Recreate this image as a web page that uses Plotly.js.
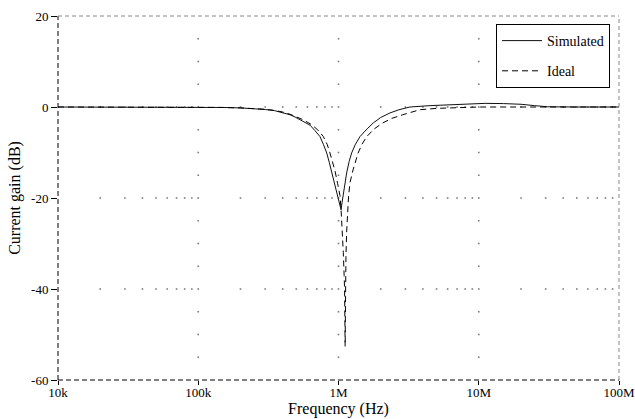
<!DOCTYPE html>
<html>
<head>
<meta charset="utf-8">
<script src="https://cdn.plot.ly/plotly-3.0.1.min.js"></script>
<style>html,body{margin:0;padding:0;background:#fff}#chart{width:635px;height:419px}</style>
</head>
<body>
<div id="chart"></div>
<script>
// Frequency (Hz) and gain (dB)
const simFreq = [1e4, 3e4, 1e5, 1.5e5, 2e5, 2.5e5, 3e5, 3.5e5, 3.83e5, 4.2e5, 4.51e5, 4.9e5, 5.31e5, 5.8e5, 6.27e5, 6.8e5, 7.38e5, 7.8e5, 8.24e5, 8.6e5, 8.95e5, 9.35e5, 9.71e5, 1.0e6, 1.02e6, 1.043e6, 1.06e6, 1.082e6, 1.11e6, 1.143e6, 1.19e6, 1.241e6, 1.32e6, 1.423e6, 1.6e6, 1.77e6, 2.0e6, 2.33e6, 2.7e6, 3.23e6, 4.5e6, 6.04e6, 8.0e6, 1.11e7, 1.5e7, 2.0e7, 2.5e7, 3.1e7, 5.0e7, 1e8];
const simGain = [0, 0, -0.05, -0.1, -0.2, -0.35, -0.55, -0.8, -1.1, -1.4, -1.7, -2.2, -2.8, -3.4, -4.0, -5.2, -6.5, -8.2, -10.1, -12.2, -14.5, -16.8, -18.9, -20.8, -22.0, -22.6, -21.0, -18.9, -16.5, -14.5, -12.0, -10.1, -8.2, -6.5, -4.8, -3.5, -2.3, -1.3, -0.6, 0, 0.3, 0.5, 0.7, 0.8, 0.75, 0.6, 0.3, 0.05, 0, 0];

const idealFreq = [1e4, 3e4, 1e5, 1.5e5, 2e5, 2.5e5, 3e5, 3.5e5, 4e5, 4.51e5, 5e5, 5.6e5, 6.44e5, 7.1e5, 7.8e5, 8.3e5, 8.69e5, 9.1e5, 9.44e5, 9.85e5, 1.025e6, 1.043e6, 1.065e6, 1.082e6, 1.097e6, 1.105e6, 1.115e6, 1.12e6, 1.13e6, 1.143e6, 1.16e6, 1.18e6, 1.21e6, 1.27e6, 1.38e6, 1.47e6, 1.59e6, 1.8e6, 2.07e6, 2.4e6, 2.87e6, 3.3e6, 3.8e6, 5e6, 7e6, 1e7, 3e7, 1e8];
const idealGain = [0, 0, -0.05, -0.1, -0.2, -0.35, -0.5, -0.75, -1.1, -1.6, -2.1, -2.8, -3.9, -5.0, -6.5, -8.2, -10.1, -12.2, -14.0, -16.8, -19.5, -22.5, -27.0, -32.0, -37.0, -40.0, -52.6, -40.0, -33.0, -27.5, -22.5, -19.5, -16.5, -13.8, -10.1, -8.2, -6.5, -4.8, -3.5, -2.5, -1.7, -1.1, -0.6, -0.3, -0.1, 0, 0, 0];

const xTickVals = [1e4, 1e5, 1e6, 1e7, 1e8];
const xTickText = ['10k', '100k', '1M', '10M', '100M'];
const yTickVals = [-60, -40, -20, 0, 20];
const yTickText = ['-60', '-40', '-20', '0', '20'];
const gridRows = [0, -20, -40];
const gridCols = [1e5, 1e6, 1e7];

// dotted grid: dots at minor x positions along major rows, minor y along major columns
const gx = [], gy = [];
gridRows.forEach(function (yv) {
  for (let d = 4; d < 8; d++) {
    for (let m = 1; m <= 9; m++) {
      const xv = m * Math.pow(10, d);
      if (xv <= 1e4) continue;
      gx.push(xv); gy.push(yv);
    }
  }
});
gridCols.forEach(function (xv) {
  for (let yv = -55; yv <= 15; yv += 5) {
    if (gridRows.indexOf(yv) >= 0) continue;
    gx.push(xv); gy.push(yv);
  }
});

const font = '"Liberation Serif", "Times New Roman", serif';

const traces = [
  {x: gx, y: gy, type: 'scatter', mode: 'markers', showlegend: false, hoverinfo: 'skip',
   marker: {symbol: 'square', size: 1.6, color: '#7a7a7a', line: {width: 0}}},
  {x: simFreq, y: simGain, type: 'scatter', mode: 'lines', name: 'Simulated', legendgroup: 'a',
   line: {color: '#111', width: 1}},
  {x: idealFreq, y: idealGain, type: 'scatter', mode: 'lines', name: 'Ideal', legendgroup: 'b',
   line: {color: '#000', width: 1, dash: '6px,4px'}}
];

const layout = {
  width: 635, height: 419,
  margin: {l: 58, r: 16, t: 16, b: 39},
  paper_bgcolor: '#fff', plot_bgcolor: '#fff',
  font: {family: font, size: 13, color: '#000'},
  showlegend: true,
  legend: {x: 0.984, xanchor: 'right', y: 0.978, yanchor: 'top',
    bgcolor: '#fff', bordercolor: '#000', borderwidth: 1,
    font: {family: font, size: 14, color: '#000'},
    tracegroupgap: 9, itemwidth: 40, traceorder: 'grouped'},
  xaxis: {type: 'log', range: [4, 8], tickvals: xTickVals, ticktext: xTickText,
    showgrid: false, zeroline: false, showline: false,
    ticks: 'outside', ticklen: 4, tickcolor: '#000', tickwidth: 1,
    ticklabelstandoff: -4,
    tickfont: {family: font, size: 13, color: '#000'},
    title: {text: 'Frequency (Hz)', font: {family: font, size: 16, color: '#000'}, standoff: 1}},
  yaxis: {range: [-60, 20], tickvals: yTickVals, ticktext: yTickText,
    showgrid: false, zeroline: false, showline: false,
    ticks: 'outside', ticklen: 6, tickcolor: '#000', tickwidth: 1,
    tickfont: {family: font, size: 13, color: '#000'},
    title: {text: 'Current gain (dB)', font: {family: font, size: 16, color: '#000'}, standoff: 6}},
  shapes: [
    {type: 'line', xref: 'paper', yref: 'paper', x0: 0, x1: 0, y0: 0, y1: 1, layer: 'above',
     line: {color: '#000', width: 1, dash: '5px,3px'}},
    {type: 'line', xref: 'paper', yref: 'paper', x0: 0, x1: 1, y0: 0, y1: 0, layer: 'above',
     line: {color: '#000', width: 1, dash: '5px,3px'}},
    {type: 'line', xref: 'paper', yref: 'paper', x0: 0, x1: 1, y0: 1, y1: 1, layer: 'above',
     line: {color: '#888', width: 1, dash: '4px,3px'}},
    {type: 'line', xref: 'paper', yref: 'paper', x0: 1, x1: 1, y0: 0, y1: 1, layer: 'above',
     line: {color: '#888', width: 1, dash: '4px,3px'}}
  ]
};

Plotly.newPlot('chart', traces, layout, {displayModeBar: false, staticPlot: true});
</script>
</body>
</html>
